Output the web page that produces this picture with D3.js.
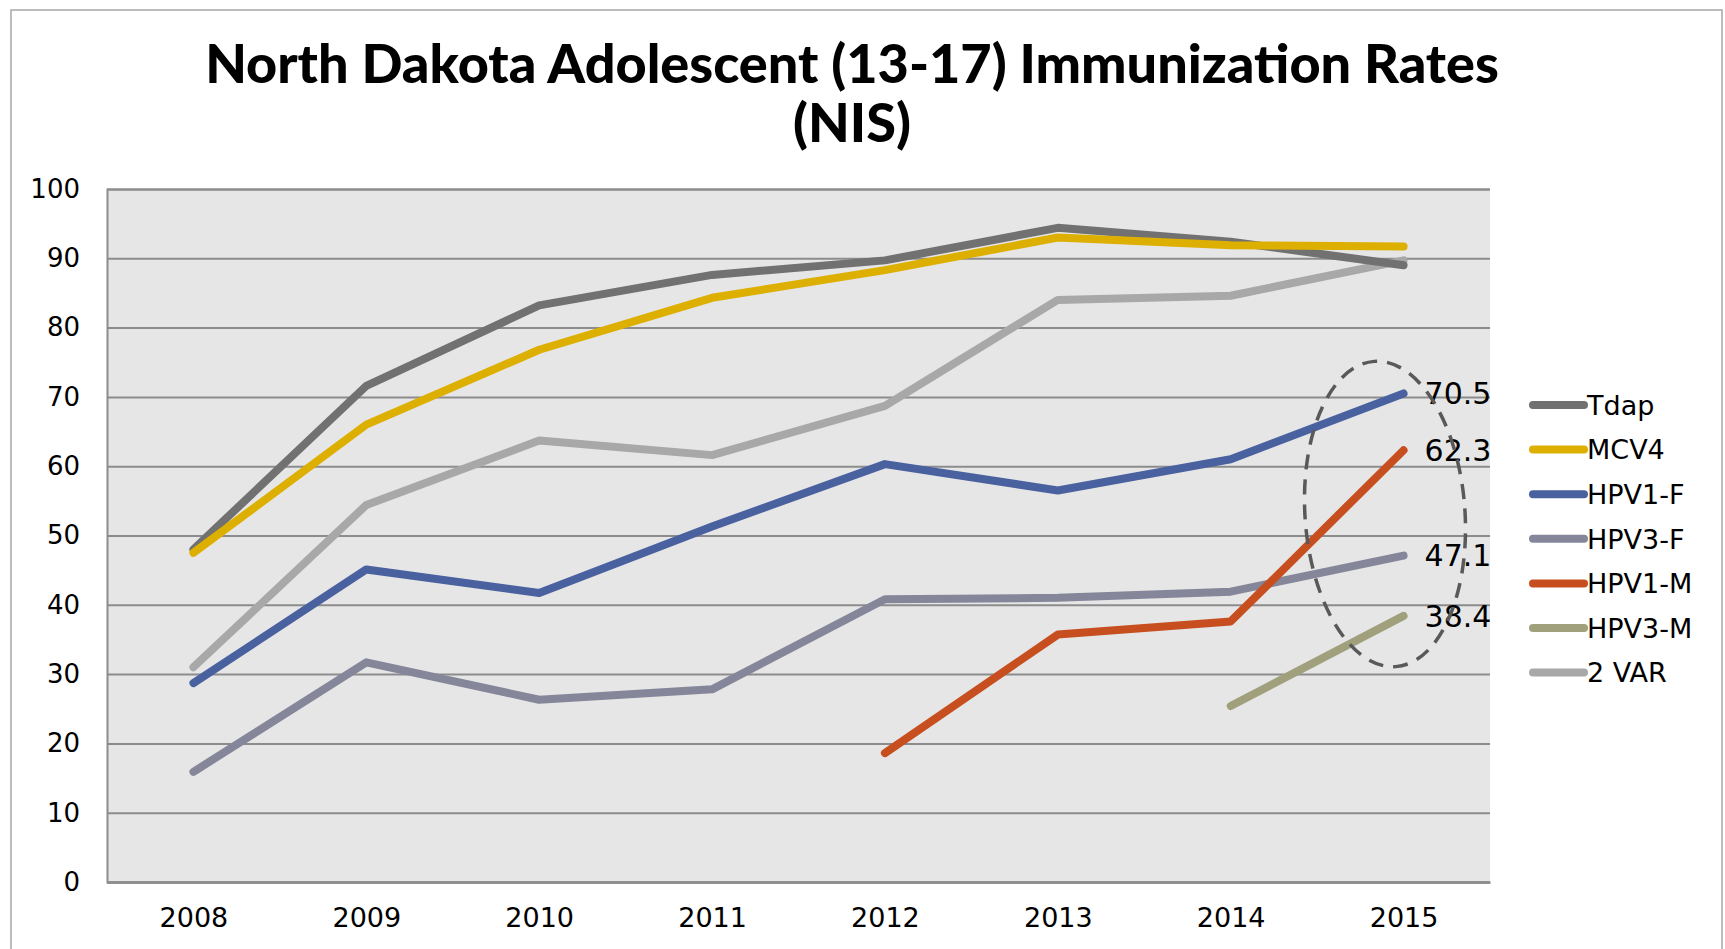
<!DOCTYPE html>
<html>
<head>
<meta charset="utf-8">
<script src="https://cdn.jsdelivr.net/npm/d3@7"></script>
<style>
  body { margin: 0; background: #fff; }
  svg { display: block; }
  text { font-family: "DejaVu Sans", sans-serif; }
</style>
</head>
<body>
<svg id="chart"></svg>
<script>
var years = ["2008", "2009", "2010", "2011", "2012", "2013", "2014", "2015"];
var yTicks = [0, 10, 20, 30, 40, 50, 60, 70, 80, 90, 100];

// null = no data for that year
var tdap   = [48, 71.6, 83.2, 87.6, 89.7, 94.4, 92.4, 89];
var mcv4   = [47.5, 66, 76.8, 84.3, 88.3, 93, 91.9, 91.7];
var hpv1f  = [28.7, 45.1, 41.7, 51.3, 60.3, 56.5, 61, 70.5];
var hpv3f  = [15.9, 31.7, 26.3, 27.8, 40.8, 41, 41.9, 47.1];
var hpv1m  = [null, null, null, null, 18.6, 35.7, 37.6, 62.3];
var hpv3m  = [null, null, null, null, null, null, 25.4, 38.4];
var twoVar = [31, 54.4, 63.7, 61.6, 68.7, 84, 84.6, 89.7];

var seriesNames = ["Tdap", "MCV4", "HPV1-F", "HPV3-F", "HPV1-M", "HPV3-M", "2 VAR"];
var seriesValues = [tdap, mcv4, hpv1f, hpv3f, hpv1m, hpv3m, twoVar];
var colors = ["#717171", "#DDAF00", "#4A619F", "#858699", "#C74F1F", "#A0A07D", "#A8A8A8"];
// series that get a value label on the last point
var labelled = ["HPV1-F", "HPV1-M", "HPV3-F", "HPV3-M"];

var width = 1725, height = 949;
var plot = {left: 107, right: 1490, top: 189, bottom: 882};

var svg = d3.select("#chart")
  .attr("width", width)
  .attr("height", height);

// outer chart frame
svg.append("rect")
  .attr("x", 11).attr("y", 10)
  .attr("width", 1711).attr("height", 960)
  .attr("fill", "#fff")
  .attr("stroke", "#a6a6a6")
  .attr("stroke-width", 1.5);

var x = d3.scalePoint()
  .domain(years)
  .range([plot.left, plot.right])
  .padding(0.5);

var y = d3.scaleLinear()
  .domain([0, 100])
  .range([plot.bottom, plot.top]);

// plot background
svg.append("rect")
  .attr("x", plot.left).attr("y", plot.top)
  .attr("width", plot.right - plot.left)
  .attr("height", plot.bottom - plot.top)
  .attr("fill", "#e6e6e6");

// gridlines + y labels
var yAxis = d3.axisLeft(y)
  .tickValues(yTicks)
  .tickSize(-(plot.right - plot.left))
  .tickPadding(27);

var gy = svg.append("g")
  .attr("transform", "translate(" + plot.left + ",0)")
  .call(yAxis);
gy.select(".domain").attr("stroke", "#8c8c8c").attr("stroke-width", 2);
gy.selectAll(".tick line").attr("stroke", "#8c8c8c").attr("stroke-width", 2);
gy.selectAll(".tick text")
  .attr("fill", "#000")
  .style("font-size", "26px");

// x labels
var xAxis = d3.axisBottom(x).tickSize(0).tickPadding(26);
var gx = svg.append("g")
  .attr("transform", "translate(0," + plot.bottom + ")")
  .call(xAxis);
gx.select(".domain").attr("stroke", "#8c8c8c").attr("stroke-width", 2.5);
gx.selectAll(".tick text")
  .attr("fill", "#000")
  .style("font-size", "27px");

// lines
var line = d3.line()
  .defined(function(d) { return d != null; })
  .x(function(d, i) { return x(years[i]); })
  .y(function(d) { return y(d); });

var order = [6, 3, 2, 4, 5, 0, 1]; // draw order, gold on top
order.forEach(function(k) {
  svg.append("path")
    .datum(seriesValues[k])
    .attr("d", line)
    .attr("fill", "none")
    .attr("stroke", colors[k])
    .attr("stroke-width", 8)
    .attr("stroke-linecap", "round")
    .attr("stroke-linejoin", "round");
});

// value labels at 2015
var last = years.length - 1;
seriesNames.forEach(function(name, k) {
  if (labelled.indexOf(name) < 0) return;
  svg.append("text")
    .attr("x", x(years[last]) + 21)
    .attr("y", y(seriesValues[k][last]))
    .attr("dy", "0.36em")
    .style("font-size", "30px")
    .attr("fill", "#000")
    .text(seriesValues[k][last]);
});

// dashed ellipse highlighting the 2015 HPV values
svg.append("ellipse")
  .attr("cx", 1385).attr("cy", 514)
  .attr("rx", 80).attr("ry", 153)
  .attr("transform", "rotate(-4,1385,514)")
  .attr("fill", "none")
  .attr("stroke", "#595959")
  .attr("stroke-width", 3.5)
  .attr("stroke-dasharray", "15,10");

// legend
var legend = svg.append("g")
  .attr("transform", "translate(1529,405)");
var item = legend.selectAll("g")
  .data(seriesNames)
  .enter().append("g")
  .attr("transform", function(d, i) { return "translate(0," + (i * 44.6) + ")"; });
item.append("line")
  .attr("x1", 4).attr("x2", 55)
  .attr("stroke", function(d, i) { return colors[i]; })
  .attr("stroke-width", 8)
  .attr("stroke-linecap", "round");
item.append("text")
  .attr("x", 58)
  .attr("dy", "0.36em")
  .style("font-size", "27px")
  .attr("fill", "#000")
  .text(function(d) { return d; });

// title
var title = svg.append("text")
  .attr("text-anchor", "middle")
  .style("font-family", "Lato, sans-serif")
  .style("font-weight", "900")
  .style("font-size", "54px")
  .attr("fill", "#000");
title.append("tspan").attr("x", 852).attr("y", 83)
  .text("North Dakota Adolescent (13-17) Immunization Rates");
title.append("tspan").attr("x", 852).attr("y", 142)
  .text("(NIS)");
</script>
</body>
</html>
